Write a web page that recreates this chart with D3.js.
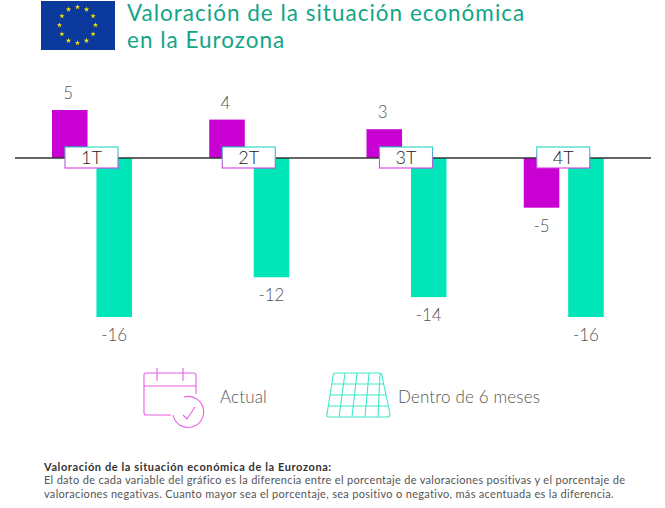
<!DOCTYPE html>
<html>
<head>
<meta charset="utf-8">
<script src="https://cdn.jsdelivr.net/npm/d3@7"></script>
<style>
  html, body { margin: 0; padding: 0; background: #fff; }
  text { font-family: Lato, "Noto Sans", sans-serif; }
</style>
</head>
<body>
<div id="chart"></div>
<script>
// Chart data
const quarters = ["1T", "2T", "3T", "4T"];
const seriesNames = ["Actual", "Dentro de 6 meses"];
const actual = [5, 4, 3, -5];
const future = [-16, -12, -14, -16];
const titleLines = ["Valoración de la situación económica", "en la Eurozona"];
const noteTitle = "Valoración de la situación económica de la Eurozona:";
const noteLines = [
  "El dato de cada variable del gráfico es la diferencia entre el porcentaje de valoraciones positivas y el porcentaje de",
  "valoraciones negativas. Cuanto mayor sea el porcentaje, sea positivo o negativo, más acentuada es la diferencia."
];

const magenta = "#c800d2";
const teal = "#00e6b9";
const width = 665, height = 508;

const svg = d3.select("#chart").append("svg")
    .attr("width", width)
    .attr("height", height)
    .style("display", "block");

// Border of the quarter labels goes from teal at the top to magenta at the bottom
const grad = svg.append("defs").append("linearGradient")
    .attr("id", "tagBorder")
    .attr("x1", 0).attr("y1", 0).attr("x2", 0).attr("y2", 1);
grad.append("stop").attr("offset", "0%").attr("stop-color", "#1fd8c0");
grad.append("stop").attr("offset", "100%").attr("stop-color", "#d93be0");

// Scales
const xScale = d3.scaleBand().domain(quarters).range([30, 659]);
const innerScale = d3.scaleBand().domain(seriesNames).range([22, 102]).paddingInner(0.2);
const yScale = d3.scaleLinear().domain([-16, 0, 5]).range([317, 158, 110]);
const colorScale = d3.scaleOrdinal().domain(seriesNames).range([magenta, teal]);

const rows = quarters.flatMap((q, i) => [
  { quarter: q, name: seriesNames[0], value: actual[i] },
  { quarter: q, name: seriesNames[1], value: future[i] }
]);

// Flag
const flag = svg.append("g").attr("transform", "translate(41,1)");
flag.append("rect").attr("width", 74).attr("height", 49).attr("fill", "#0b3a9c");
d3.range(12).forEach(i => {
  const a = i * Math.PI / 6;
  flag.append("path")
      .attr("d", d3.symbol().type(d3.symbolStar).size(9)())
      .attr("transform", `translate(${36.5 + 18 * Math.sin(a)},${24 - 18 * Math.cos(a)})`)
      .attr("fill", "#ffe600");
});

// Title
svg.selectAll(".title")
    .data(titleLines)
    .enter()
    .append("text")
    .attr("class", "title")
    .attr("x", 127)
    .attr("y", (d, i) => 21 + i * 27)
    .attr("font-size", 22.5)
    .attr("letter-spacing", 1)
    .attr("fill", "#12a586")
    .text(d => d);

// Bars
svg.selectAll(".bar")
    .data(rows)
    .enter()
    .append("rect")
    .attr("class", "bar")
    .attr("x", d => xScale(d.quarter) + innerScale(d.name))
    .attr("width", innerScale.bandwidth())
    .attr("y", d => Math.min(yScale(d.value), yScale(0)))
    .attr("height", d => Math.abs(yScale(d.value) - yScale(0)))
    .attr("fill", d => colorScale(d.name));

// Zero line
svg.append("line")
    .attr("x1", 15).attr("x2", 651)
    .attr("y1", yScale(0)).attr("y2", yScale(0))
    .attr("stroke", "#333")
    .attr("stroke-width", 1.3);

// Value labels
svg.selectAll(".value")
    .data(rows)
    .enter()
    .append("text")
    .attr("class", "value")
    .attr("x", d => xScale(d.quarter) + innerScale(d.name) + innerScale.bandwidth() / 2 - (d.value > 0 ? 1.5 : 0))
    .attr("y", d => yScale(d.value) + (d.value > 0 ? -11 : 24))
    .attr("text-anchor", "middle")
    .attr("font-size", 17)
    .attr("font-weight", 300)
    .attr("fill", "#555")
    .text(d => d.value < 0 ? "-" + Math.abs(d.value) : d.value);

// Quarter labels
const tag = svg.selectAll(".tag")
    .data(quarters)
    .enter()
    .append("g")
    .attr("class", "tag")
    .attr("transform", d => `translate(${xScale(d) + 35},147)`);

tag.append("rect")
    .attr("width", 53).attr("height", 21)
    .attr("fill", "#fff")
    .attr("stroke", "url(#tagBorder)")
    .attr("stroke-width", 1.1);
tag.append("text")
    .attr("x", 26.5).attr("y", 17)
    .attr("text-anchor", "middle")
    .attr("font-size", 18)
    .attr("font-weight", 300)
    .attr("fill", "#222")
    .text(d => d);

// Legend icon: calendar
const cal = svg.append("g")
    .attr("fill", "none")
    .attr("stroke", "#e85fe6")
    .attr("stroke-width", 1.1);
cal.append("path").attr("d", "M171,415H146Q144,415 144,413V375Q144,373 146,373H193Q196,373 196,375V394");
cal.append("path").attr("d", "M144,386H196M157,368V381M183,368V381");
cal.append("path").attr("d", "M184,397A15.5,15.5 0 1 1 173,415");
cal.append("path").attr("d", "M183,415L187,419L195,407");

// Legend icon: solar panel
const panel = svg.append("g")
    .attr("fill", "none")
    .attr("stroke", "#3fe8c6")
    .attr("stroke-width", 1.1);
panel.append("path").attr("d", "M336,373H379Q382,373 382,376L390,414Q390,417 387,417H329Q326,417 327,414L333,376Q333,373 336,373Z");
panel.append("path").attr("d", "M332,384H384M330,395H386M328,406H388");
panel.append("path").attr("d", "M345,373L339,417M357,373L352,417M369,373L365,417M380,373L378,417");

// Legend text
svg.selectAll(".legend")
    .data(seriesNames)
    .enter()
    .append("text")
    .attr("class", "legend")
    .attr("x", (d, i) => [220, 398][i])
    .attr("y", 403)
    .attr("font-size", 17)
    .attr("font-weight", 300)
    .attr("letter-spacing", 0.15)
    .attr("fill", "#555")
    .text(d => d);

// Footnote
svg.append("text")
    .attr("x", 44).attr("y", 471)
    .attr("font-size", 11)
    .attr("font-weight", 700)
    .attr("letter-spacing", 0.6)
    .attr("fill", "#333")
    .text(noteTitle);

svg.selectAll(".note")
    .data(noteLines)
    .enter()
    .append("text")
    .attr("class", "note")
    .attr("x", 44)
    .attr("y", (d, i) => 484 + i * 13.5)
    .attr("font-size", 11)
    .attr("letter-spacing", 0.31)
    .attr("fill", "#555")
    .text(d => d);
</script>
</body>
</html>
